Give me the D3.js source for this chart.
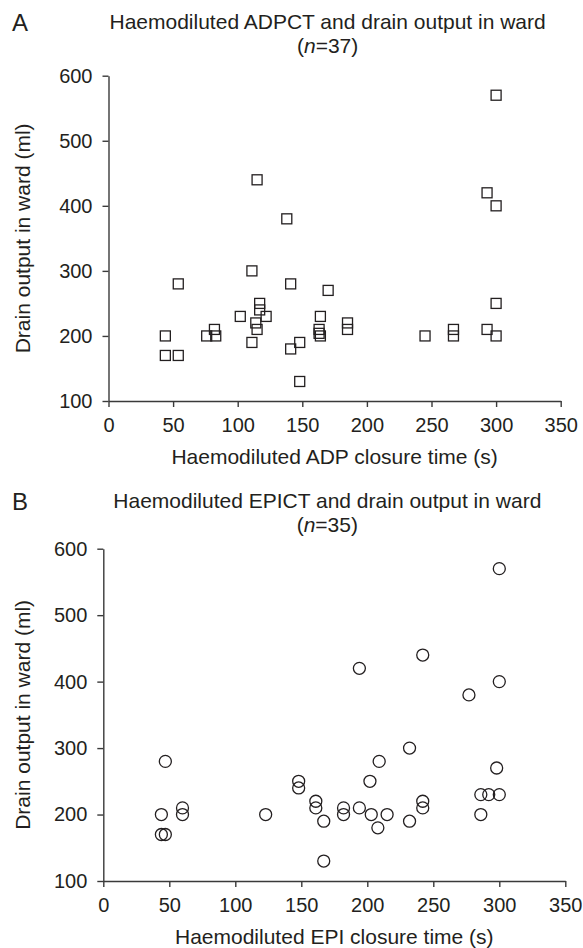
<!DOCTYPE html>
<html>
<head>
<meta charset="utf-8">
<script src="https://cdn.jsdelivr.net/npm/d3@7"></script>
<style>
  body { margin: 0; background: #fff; }
  text { font-family: "Liberation Sans", Arial, sans-serif; fill: #231f20; }
</style>
</head>
<body>
<div id="chart"></div>
<script>
// tick values shared by both panels
var xTicks = [0, 50, 100, 150, 200, 250, 300, 350];
var yTicks = [100, 200, 300, 400, 500, 600];

// panel A : haemodiluted ADP closure time vs drain output (n=37)
var adpTime  = [44, 44, 54, 54, 76, 82, 83, 102, 111, 111, 114, 115, 115, 117, 117, 122, 138, 141, 141,
                148, 148, 164, 163, 163, 164, 170, 185, 185, 245, 267, 267, 293, 300, 300, 300, 293, 300];
var adpDrain = [200, 170, 170, 280, 200, 210, 200, 230, 300, 190, 220, 210, 440, 250, 240, 230, 380, 280, 180,
                190, 130, 230, 210, 204, 200, 270, 220, 210, 200, 210, 200, 420, 400, 570, 250, 210, 200];

// panel B : haemodiluted EPI closure time vs drain output (n=35)
var epiTime  = [47, 44, 44, 47, 60, 60, 123, 148, 148, 161, 161, 167, 167, 182, 182, 194, 194, 202,
                203, 208, 209, 215, 232, 232, 242, 242, 242, 277, 286, 286, 292, 300, 298, 300, 300];
var epiDrain = [280, 200, 170, 170, 210, 200, 200, 250, 240, 220, 210, 190, 130, 210, 200, 420, 210, 250,
                200, 180, 280, 200, 300, 190, 440, 220, 210, 380, 230, 200, 230, 230, 270, 400, 570];

var W = 583, H = 948;
var svg = d3.select("#chart").append("svg")
    .attr("width", W)
    .attr("height", H);

var ink = "#231f20";

function drawPanel(p) {
    var x = d3.scaleLinear().domain([0, 350]).range([p.left, p.right]);
    var y = d3.scaleLinear().domain([100, 600]).range([p.bottom, p.top]);
    var g = svg.append("g");

    var xAxis = d3.axisBottom(x).tickValues(xTicks).tickSize(6).tickSizeOuter(0).tickPadding(11);
    var yAxis = d3.axisLeft(y).tickValues(yTicks).tickSize(6).tickSizeOuter(0).tickPadding(10);

    var gx = g.append("g").attr("transform", "translate(0," + p.bottom + ")").call(xAxis);
    var gy = g.append("g").attr("transform", "translate(" + p.left + ",0)").call(yAxis);
    [gx, gy].forEach(function(a) {
        a.selectAll("path, line").attr("stroke", "#3a3a3a").attr("stroke-width", 1.4);
        a.selectAll("text").style("font-size", "20px").attr("fill", ink);
    });

    // points
    var pts = p.xs.map(function(v, i) { return { t: v, d: p.ys[i] }; });
    if (p.shape === "square") {
        var s = 10;
        g.selectAll("rect.pt").data(pts).enter().append("rect")
            .attr("class", "pt")
            .attr("x", function(d) { return x(d.t) - s / 2; })
            .attr("y", function(d) { return y(d.d) - s / 2; })
            .attr("width", s).attr("height", s)
            .attr("fill", "none")
            .attr("stroke", ink).attr("stroke-width", 1.3);
    } else {
        g.selectAll("circle.pt").data(pts).enter().append("circle")
            .attr("class", "pt")
            .attr("cx", function(d) { return x(d.t); })
            .attr("cy", function(d) { return y(d.d); })
            .attr("r", 6)
            .attr("fill", "none")
            .attr("stroke", ink).attr("stroke-width", 1.3);
    }

    var mid = (p.left + p.right) / 2;

    // panel letter
    g.append("text").attr("x", 12).attr("y", p.titleY + 2)
        .style("font-size", "24px").text(p.letter);

    // title, two lines
    g.append("text").attr("x", mid - 7).attr("y", p.titleY)
        .attr("text-anchor", "middle").style("font-size", "21px").text(p.title);
    var t2 = g.append("text").attr("x", mid - 7).attr("y", p.titleY + 24)
        .attr("text-anchor", "middle").style("font-size", "21px");
    t2.append("tspan").text("(");
    t2.append("tspan").style("font-style", "italic").text("n");
    t2.append("tspan").text("=" + p.n + ")");

    // axis titles
    g.append("text").attr("x", mid).attr("y", p.bottom + 63)
        .attr("text-anchor", "middle").style("font-size", "21px").text(p.xLabel);
    g.append("text")
        .attr("transform", "translate(30," + ((p.top + p.bottom) / 2) + ") rotate(-90)")
        .attr("text-anchor", "middle").style("font-size", "21px").text("Drain output in ward (ml)");
}

drawPanel({
    letter: "A", title: "Haemodiluted ADPCT and drain output in ward", n: 37,
    xLabel: "Haemodiluted ADP closure time (s)",
    left: 108.5, right: 560.7, top: 75.7, bottom: 401, titleY: 29,
    xs: adpTime, ys: adpDrain, shape: "square"
});

drawPanel({
    letter: "B", title: "Haemodiluted EPICT and drain output in ward", n: 35,
    xLabel: "Haemodiluted EPI closure time (s)",
    left: 103.3, right: 565.3, top: 548.7, bottom: 881, titleY: 508,
    xs: epiTime, ys: epiDrain, shape: "circle"
});
</script>
</body>
</html>
